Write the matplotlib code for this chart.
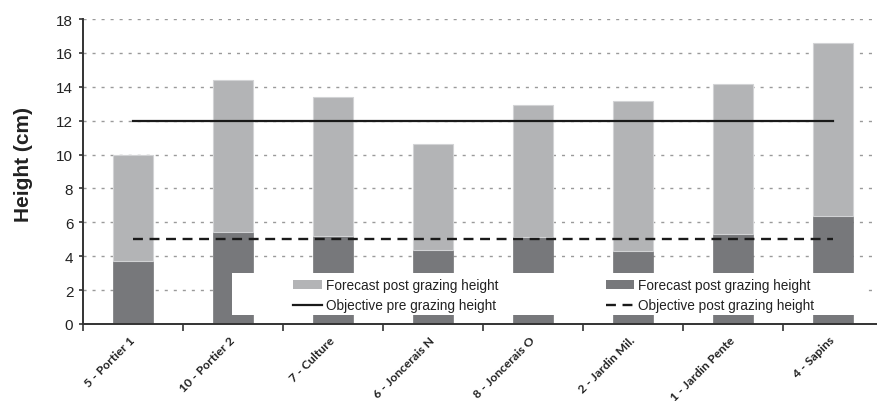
import matplotlib
matplotlib.use("Agg")
import matplotlib.pyplot as plt
from matplotlib.patches import Rectangle, Patch
from matplotlib.lines import Line2D
import numpy as np

categories = ["5 - Portier 1", "10 - Portier 2", "7 - Culture", "6 - Joncerais N",
              "8 - Joncerais O", "2 - Jardin Mil.", "1 - Jardin Pente", "4 - Sapins"]
post_height = [3.72, 5.45, 5.19, 4.35, 5.15, 4.31, 5.31, 6.38]
pre_height = [10.0, 14.4, 13.4, 10.6, 12.9, 13.15, 14.15, 16.6]
objective_pre = 12
objective_post = 5
yticks = [0, 2, 4, 6, 8, 10, 12, 14, 16, 18]

light = "#b3b4b6"
dark = "#77787b"

plt.rcParams['font.family'] = ['Liberation Sans', 'DejaVu Sans']

fig = plt.figure(figsize=(8.77, 4.02), dpi=100)
ax = fig.add_axes([83/877, 77/402, 800/877, 305/402])

x = np.arange(len(categories))
top_part = [p - q for p, q in zip(pre_height, post_height)]
ax.bar(x, post_height, width=0.4, color=dark, edgecolor=dark, linewidth=0.5, zorder=2)
ax.bar(x, top_part, width=0.4, bottom=post_height, color=light,
       edgecolor="#d2d3d5", linewidth=0.8, zorder=2)

ax.plot([x[0], x[-1]], [objective_pre, objective_pre], color="#1a1a1a", lw=1.6, zorder=3)
ax.plot([x[0], x[-1]], [objective_post, objective_post], color="#1a1a1a", lw=1.7,
        linestyle=(0, (4.2, 2.8)), zorder=3)

ax.set_xlim(-0.5, len(categories) - 0.5)
ax.set_ylim(0, 18)
ax.set_yticks(yticks)
ax.set_yticklabels([str(v) for v in yticks], fontsize=11, color="#222222")
ax.yaxis.grid(True, color="#9a9a9a", lw=1.0, linestyle=(0, (2.2, 4.3)))
ax.set_axisbelow(True)

ax.set_xticks(x)
ax.set_xticklabels(categories, rotation=45, ha='right', va='center',
                   rotation_mode='anchor', fontsize=8.8, fontweight='bold',
                   family=['Lato', 'DejaVu Sans'], color="#222222")
ax.set_xticks(np.arange(len(categories) + 1) - 0.5, minor=True)
ax.tick_params(axis='x', which='major', length=0, pad=10)
ax.tick_params(axis='x', which='minor', length=5, width=1.2, color="#333333")
ax.tick_params(axis='y', length=3, width=1.2, color="#333333", pad=4)

for s in ['top', 'right']:
    ax.spines[s].set_visible(False)
for s in ['left', 'bottom']:
    ax.spines[s].set_color("#333333")
    ax.spines[s].set_linewidth(1.4)

ax.set_ylabel("Height (cm)", fontsize=15, fontweight='bold', color="#222222")
ax.yaxis.set_label_coords(-0.0625, 0.525)

# white legend background box
ax.add_patch(Rectangle((0.18625, 0.55/18), 0.7925, 2.45/18, transform=ax.transAxes,
                       facecolor='white', edgecolor='none', zorder=4))

handles = [Patch(facecolor=light, edgecolor='none'),
           Line2D([], [], color="#1a1a1a", lw=1.6),
           Patch(facecolor=dark, edgecolor='none'),
           Line2D([], [], color="#1a1a1a", lw=1.7, linestyle=(0, (4.2, 2.8)))]
labels = ["Forecast post grazing height", "Objective pre grazing height",
          "Forecast post grazing height", "Objective post grazing height"]
leg = fig.legend(handles, labels, ncol=2, loc='upper left',
                 bbox_to_anchor=(293/877, (402-279)/402), frameon=False,
                 fontsize=9.8, borderpad=0, borderaxespad=0, handlelength=2.1,
                 handleheight=0.6, handletextpad=0.3, columnspacing=7.9,
                 labelspacing=0.45)
leg.set_zorder(5)
for t in leg.get_texts():
    t.set_color("#222222")

fig.savefig("out.png", dpi=100)
